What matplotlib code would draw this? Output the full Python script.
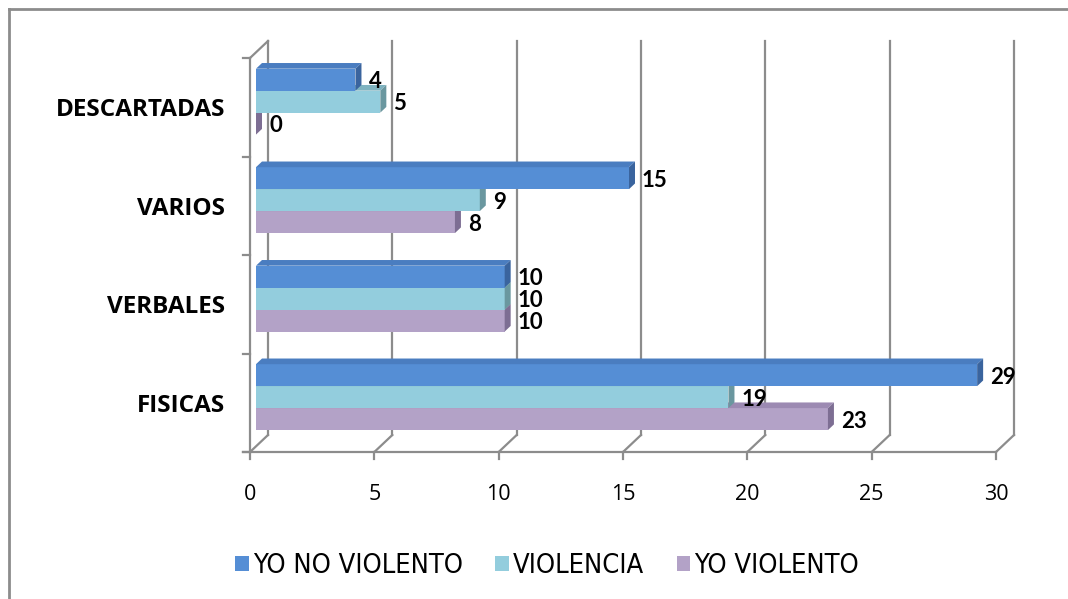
# Tipos de agresiones - barras horizontales con efecto 3D (estilo Excel)

import matplotlib
matplotlib.use('Agg')
import matplotlib.pyplot as plt
from matplotlib.patches import Polygon, Patch
from matplotlib.lines import Line2D

# Datos
categories = ['FISICAS', 'VERBALES', 'VARIOS', 'DESCARTADAS']
series_names = ['YO NO VIOLENTO', 'VIOLENCIA', 'YO VIOLENTO']
yo_no_violento = [29, 10, 15, 4]
violencia = [19, 10, 9, 5]
yo_violento = [23, 10, 8, 0]
x_ticks = [0, 5, 10, 15, 20, 25, 30]

series_values = [yo_no_violento, violencia, yo_violento]
front_colors = ['#558ED5', '#93CDDD', '#B3A2C7']
top_colors = ['#4A7DC0', '#7FB3C0', '#9C8AB2']
side_colors = ['#3A649E', '#6A979F', '#7D6E93']

grid_color = '#8C8C8C'
text_color = '#000000'

fig = plt.figure(figsize=(10.68, 5.99), dpi=100)
W, H = 1068, 599

# front plane: value 0 -> px 250, value 30 -> px 996 ; categories 0..4 -> py 452..58
ax = fig.add_axes([250 / W, (H - 452) / H, 746 / W, 394 / H])
ax.set_xlim(0, 30)
ax.set_ylim(0, 4)
ax.axis('off')

px_x = 30 / 746.0   # data units per pixel (x)
px_y = 4 / 394.0    # data units per pixel (y)
DX = 18 * px_x      # depth of the 3D box
DY = 17 * px_y
lw = 1.6

# back wall gridlines
for v in x_ticks:
    ax.plot([v + DX, v + DX], [DY, 4 + DY], color=grid_color, lw=lw, zorder=1, clip_on=False)
    # floor diagonals
    ax.plot([v, v + DX], [0, DY], color=grid_color, lw=lw, zorder=1, clip_on=False)
    # tick marks under floor
    ax.plot([v, v], [0, -7 * px_y], color=grid_color, lw=lw, zorder=1, clip_on=False)
    ax.text(v, -42 * px_y, str(v), ha='center', va='center', fontsize=15.5,
            family=['Open Sans', 'DejaVu Sans'], color=text_color)

# front floor line and left wall
ax.plot([-7 * px_x, 30], [0, 0], color=grid_color, lw=lw, zorder=1, clip_on=False)
ax.plot([0, 0], [0, 4], color=grid_color, lw=lw, zorder=1, clip_on=False)
ax.plot([0, DX], [4, 4 + DY], color=grid_color, lw=lw, zorder=1, clip_on=False)
for c in range(len(categories) + 1):
    ax.plot([-7 * px_x, 0], [c, c], color=grid_color, lw=lw, zorder=1, clip_on=False)

# bars
bar_h = 0.223
group_bottom = 0.165
d0 = DX / 3
e0 = DY / 3
z = 5
for c, cat in enumerate(categories):
    for k in [2, 1, 0]:
        v = series_values[k][c]
        y0 = c + group_bottom + (2 - k) * bar_h + e0
        y1 = y0 + bar_h
        ax.barh(y0, v, height=bar_h, left=d0, align='edge', color=front_colors[k],
                edgecolor='none', zorder=z, clip_on=False)
        top = Polygon([(d0, y1), (d0 + v, y1), (d0 + v + d0, y1 + e0), (d0 + d0, y1 + e0)],
                      closed=True, facecolor=top_colors[k], edgecolor='none', zorder=z, clip_on=False)
        side = Polygon([(d0 + v, y0), (d0 + v + d0, y0 + e0), (d0 + v + d0, y1 + e0), (d0 + v, y1)],
                       closed=True, facecolor=side_colors[k], edgecolor='none', zorder=z, clip_on=False)
        ax.add_patch(top)
        ax.add_patch(side)
        z += 1
        ax.text(v + 2 * d0 + 7 * px_x, (y0 + y1) / 2 - 2 * px_y, str(v), ha='left', va='center',
                fontsize=16, fontweight='bold', family=['Lato', 'DejaVu Sans'],
                color=text_color, zorder=50)
    ax.text(-25 * px_x, c + 0.5 - 3 * px_y, cat, ha='right', va='center', fontsize=17.5,
            fontweight='bold', family=['Open Sans', 'DejaVu Sans'], color=text_color)

# legend
handles = [Patch(facecolor=front_colors[k], edgecolor='none') for k in range(3)]
fig.legend(handles, series_names, loc='center', bbox_to_anchor=(547 / W, 1 - 566 / H), ncol=3,
           frameon=False, handlelength=0.5, handleheight=0.5, handletextpad=0.15, columnspacing=1.2,
           prop={'family': ['DejaVu Sans'], 'stretch': 'condensed', 'size': 19.5})

# outer frame
fig.add_artist(Line2D([9 / W, 9 / W], [0, 1 - 9 / H], color='#8C8C8C', lw=2, transform=fig.transFigure))
fig.add_artist(Line2D([9 / W, 1], [1 - 9 / H, 1 - 9 / H], color='#8C8C8C', lw=2, transform=fig.transFigure))

fig.savefig('out.png', dpi=100)
